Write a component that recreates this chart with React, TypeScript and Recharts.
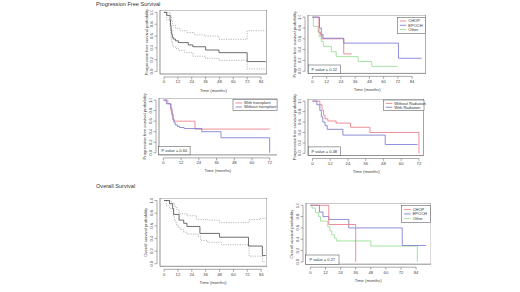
import React from "react";
import { LineChart, Line, XAxis, YAxis, ReferenceArea } from "recharts";

// ---- tick labels ----
const monthTicks = [0, 12, 24, 36, 48, 60, 72, 84];
const monthTicks72 = [0, 12, 24, 36, 48, 60, 72];
const probTicks = [0, 0.2, 0.4, 0.6, 0.8, 1];

// ---- PFS, whole cohort (estimate + 95% CI) ----
const pfsTime = [0, 2.3, 5.2, 5.6, 6.1, 6.6, 7.2, 8, 10, 12.5, 21, 25, 36, 47.6, 72, 88];
const pfsSurv = [1, 0.95, 0.87, 0.78, 0.7, 0.63, 0.58, 0.55, 0.52, 0.49, 0.45, 0.42, 0.365, 0.32, 0.17, 0.17];
const pfsUpperTime = [0, 2.3, 5.2, 5.8, 6.5, 7.5, 10, 14, 20, 26, 36, 47.6, 72, 88];
const pfsUpper = [1, 1, 0.98, 0.92, 0.85, 0.78, 0.73, 0.69, 0.66, 0.62, 0.6, 0.545, 0.69, 0.69];
const pfsLowerTime = [0, 2.3, 5.2, 5.6, 6.1, 6.6, 7.2, 8, 10, 12.5, 18, 25, 36, 47.6, 72, 88];
const pfsLower = [1, 0.87, 0.75, 0.66, 0.57, 0.5, 0.45, 0.42, 0.39, 0.36, 0.32, 0.26, 0.225, 0.19, 0.045, 0.045];

// ---- PFS by chemotherapy ----
const pfsChopTime = [0, 5.5, 7, 8, 26.4, 33];
const pfsChop = [1, 0.72, 0.66, 0.6, 0.32, 0.32];
const pfsEpochTime = [0, 6, 7.5, 9, 26.4, 72.5, 92];
const pfsEpoch = [1, 0.8, 0.68, 0.61, 0.52, 0.24, 0.24];
const pfsOtherTime = [0, 0.8, 4.8, 5.8, 7.5, 9.2, 16, 20, 38.6, 50, 72];
const pfsOther = [1, 0.83, 0.72, 0.64, 0.55, 0.46, 0.36, 0.27, 0.18, 0.09, 0.09];

// ---- PFS by transplant ----
const pfsTxTime = [0, 3, 5, 5.8, 6.5, 7.2, 21.4, 72];
const pfsTx = [1, 0.93, 0.8, 0.7, 0.62, 0.6, 0.45, 0.45];
const pfsNoTxTime = [0, 2, 5, 5.8, 6.5, 7.2, 8, 9.5, 11, 14, 26, 39, 72];
const pfsNoTx = [1, 0.93, 0.85, 0.74, 0.64, 0.57, 0.53, 0.5, 0.48, 0.46, 0.4, 0.285, 0];

// ---- PFS by radiation ----
const pfsNoRadTime = [0, 5, 6.5, 7.5, 8.5, 10.4, 16, 25.7, 38.9, 72];
const pfsNoRad = [1, 0.93, 0.83, 0.73, 0.66, 0.62, 0.58, 0.5, 0.4, 0];
const pfsRadTime = [0, 3, 5, 6, 7, 8.5, 10, 20.6, 49.2, 71];
const pfsRad = [1, 0.93, 0.82, 0.7, 0.6, 0.53, 0.46, 0.35, 0.17, 0.17];

// ---- OS, whole cohort (estimate + 95% CI) ----
const osTime = [0, 4.7, 7.4, 8.3, 13, 17, 19.8, 31, 48, 73, 85, 88];
const osSurv = [1, 0.95, 0.87, 0.78, 0.69, 0.64, 0.59, 0.48, 0.42, 0.28, 0.13, 0.13];
const osUpperTime = [0, 6, 8.8, 9.5, 11, 13, 20, 28, 37.7, 48, 73.5, 83, 88];
const osUpper = [1, 0.96, 0.93, 0.9, 0.85, 0.79, 0.76, 0.7, 0.69, 0.65, 0.7, 0.72, 0.72];
const osLowerTime = [0, 2, 4.7, 8, 9, 10.5, 12, 14, 17, 19.8, 29.5, 31.5, 37.7, 49.6, 73.5, 85, 88];
const osLower = [1, 0.92, 0.87, 0.75, 0.68, 0.62, 0.58, 0.54, 0.5, 0.47, 0.43, 0.37, 0.34, 0.3, 0.12, 0.03, 0.03];

// ---- OS by chemotherapy ----
const osChopTime = [0, 14.6, 36];
const osChop = [1, 0.66, 0];
const osEpochTime = [0, 7.2, 10, 14.6, 30.5, 73, 92];
const osEpoch = [1, 0.88, 0.8, 0.75, 0.6, 0.29, 0.29];
const osOtherTime = [0, 1.3, 4, 6.5, 8, 13.8, 15.5, 17, 19, 20.6, 48, 85];
const osOther = [1, 0.95, 0.87, 0.8, 0.72, 0.62, 0.55, 0.48, 0.42, 0.37, 0.28, 0];

const RED = "#e8727c";
const BLUE = "#7272d2";
const GREEN = "#8edc8e";
const SOLID = "#4a4a4a";
const CI = "#9a9a9a";
const FONT = "'Liberation Sans', Arial, sans-serif";
const yDomain = [-0.04, 1.04];

const pts = (t: number[], s: number[]) => t.map((v, i) => ({ t: v, s: s[i] }));

const solid = (data: any, color: string) => ({ data, color, dash: undefined, width: 0.8 });
const dashed = (data: any) => ({ data, color: CI, dash: "1.2 1.2", width: 0.7 });

const panels = [
  {
    left: 160, top: 10, w: 106.8, h: 64, xDomain: [-3.5, 89], xTicks: monthTicks,
    ylab: "Progression free survival probability",
    series: [dashed(pts(pfsUpperTime, pfsUpper)), dashed(pts(pfsLowerTime, pfsLower)), solid(pts(pfsTime, pfsSurv), SOLID)],
  },
  {
    left: 308.3, top: 15.1, w: 117.8, h: 58.4, xDomain: [-3.7, 95.5], xTicks: monthTicks,
    ylab: "Progression free survival probability",
    series: [solid(pts(pfsOtherTime, pfsOther), GREEN), solid(pts(pfsChopTime, pfsChop), RED), solid(pts(pfsEpochTime, pfsEpoch), BLUE)],
    legend: { x: 397.3, y: 17.3, w: 28.4, h: 16, items: [["CHOP", RED], ["EPOCH", BLUE], ["Other", GREEN]] },
    pval: { x: 308.3, y: 65, w: 32, h: 8.5, text: "P value = 0.12" },
  },
  {
    left: 158.6, top: 97.9, w: 118.5, h: 56.9, xDomain: [-3, 77.3], xTicks: monthTicks72,
    ylab: "Progression free survival probability",
    series: [solid(pts(pfsTxTime, pfsTx), RED), solid(pts(pfsNoTxTime, pfsNoTx), BLUE)],
    legend: { x: 233, y: 99.5, w: 44.1, h: 11, items: [["With transplant", RED], ["Without transplant", BLUE]] },
    pval: { x: 158.6, y: 146.5, w: 31.5, h: 8.3, text: "P value = 0.60" },
  },
  {
    left: 308.3, top: 98.9, w: 115.7, h: 56.5, xDomain: [-3, 75.2], xTicks: monthTicks72,
    ylab: "Progression free survival probability",
    series: [solid(pts(pfsNoRadTime, pfsNoRad), RED), solid(pts(pfsRadTime, pfsRad), BLUE)],
    legend: { x: 383.3, y: 100, w: 40.7, h: 10.7, items: [["Without Radiation", RED], ["With Radiation", BLUE]] },
    pval: { x: 308.3, y: 146.9, w: 32, h: 8.5, text: "P value = 0.48" },
  },
  {
    left: 159.5, top: 198.2, w: 107, h: 68.3, xDomain: [-3.5, 89], xTicks: monthTicks,
    ylab: "Overall survival probability",
    series: [dashed(pts(osUpperTime, osUpper)), dashed(pts(osLowerTime, osLower)), solid(pts(osTime, osSurv), SOLID)],
  },
  {
    left: 305.6, top: 203.4, w: 125.2, h: 61.2, xDomain: [-3.5, 96], xTicks: monthTicks,
    ylab: "Overall survival probability",
    series: [solid(pts(osOtherTime, osOther), GREEN), solid(pts(osEpochTime, osEpoch), BLUE), solid(pts(osChopTime, osChop), RED)],
    legend: { x: 401.7, y: 205.7, w: 28.6, h: 16.6, items: [["CHOP", RED], ["EPOCH", BLUE], ["Other", GREEN]] },
    pval: { x: 305.6, y: 255, w: 33.4, h: 9.6, text: "P value = 0.27" },
  },
];

const XTick = (props: any) => {
  const { x, y, payload, step } = props;
  return (
    <g>
      {payload.value > 0 && <line x1={x - step} x2={x} y1={y + 3} y2={y + 3} stroke="#555" strokeWidth={0.5} />}
      <line x1={x} x2={x} y1={y + 3} y2={y + 5.5} stroke="#555" strokeWidth={0.5} />
      <text x={x} y={y + 9.5} textAnchor="middle" fontSize={4.2} fill="#444" fontFamily={FONT}>{payload.value}</text>
    </g>
  );
};

const YTick = (props: any) => {
  const { x, y, payload, step } = props;
  return (
    <g>
      {payload.value > 0.01 && <line x1={x - 3} x2={x - 3} y1={y} y2={y + step} stroke="#555" strokeWidth={0.5} />}
      <line x1={x - 3} x2={x - 5.5} y1={y} y2={y} stroke="#555" strokeWidth={0.5} />
      <text transform={`translate(${x - 6.8},${y}) rotate(-90)`} textAnchor="middle" fontSize={4.2} fill="#444" fontFamily={FONT}>
        {payload.value.toFixed(1)}
      </text>
    </g>
  );
};

const Panel = ({ p }: { p: any }) => {
  const xStep = (12 * p.w) / (p.xDomain[1] - p.xDomain[0]);
  const yStep = (0.2 * p.h) / (yDomain[1] - yDomain[0]);
  return (
    <div style={{ position: "absolute", left: p.left - 20, top: p.top }}>
      <LineChart width={p.w + 20} height={p.h + 20} margin={{ top: 0, right: 0, bottom: 0, left: 0 }}>
        <XAxis type="number" dataKey="t" domain={p.xDomain} ticks={p.xTicks} allowDataOverflow interval={0}
          height={20} axisLine={false} tickLine={false} tickSize={0} tickMargin={0}
          tick={(props: any) => <XTick {...props} step={xStep} />} />
        <YAxis type="number" domain={yDomain} ticks={probTicks} allowDataOverflow interval={0}
          width={20} axisLine={false} tickLine={false} tickSize={0} tickMargin={0}
          tick={(props: any) => <YTick {...props} step={yStep} />} />
        <ReferenceArea x1={p.xDomain[0]} x2={p.xDomain[1]} y1={yDomain[0]} y2={yDomain[1]}
          fill="none" fillOpacity={0} stroke="#444" strokeWidth={0.6} ifOverflow="visible" />
        {p.series.map((s: any, i: number) => (
          <Line key={i} data={s.data} dataKey="s" type="stepAfter" stroke={s.color} strokeWidth={s.width}
            strokeDasharray={s.dash} dot={false} activeDot={false} isAnimationActive={false} />
        ))}
      </LineChart>
    </div>
  );
};

const Notes = () => (
  <svg width={520} height={292} style={{ position: "absolute", left: 0, top: 0 }} fontFamily={FONT}>
    <text x={96} y={6.2} fontSize={5.6} fill="#333">Progression Free Survival</text>
    <text x={96} y={187.8} fontSize={5.6} fill="#333">Overall Survival</text>
    {panels.map((p: any, i) => (
      <g key={i}>
        <text x={p.left + p.w / 2} y={p.top + p.h + 17.5} textAnchor="middle" fontSize={4.2} fill="#444">Time (months)</text>
        <text transform={`translate(${p.left - 12.5},${p.top + p.h / 2}) rotate(-90)`} textAnchor="middle" fontSize={4.2} fill="#444">
          {p.ylab}
        </text>
        {p.legend && (
          <g>
            <rect x={p.legend.x} y={p.legend.y} width={p.legend.w} height={p.legend.h} fill="#fff" stroke="#444" strokeWidth={0.5} />
            {p.legend.items.map(([name, color]: any, j: number) => {
              const rowH = (p.legend.h - 3) / p.legend.items.length;
              const cy = p.legend.y + 1.5 + rowH * (j + 0.5);
              return (
                <g key={j}>
                  <line x1={p.legend.x + 2.5} x2={p.legend.x + 9} y1={cy} y2={cy} stroke={color} strokeWidth={0.8} />
                  <text x={p.legend.x + 11} y={cy + 1.4} fontSize={4} fill="#333">{name}</text>
                </g>
              );
            })}
          </g>
        )}
        {p.pval && (
          <g>
            <rect x={p.pval.x} y={p.pval.y} width={p.pval.w} height={p.pval.h} fill="#fff" stroke="#444" strokeWidth={0.5} />
            <text x={p.pval.x + p.pval.w / 2} y={p.pval.y + p.pval.h / 2 + 1.4} textAnchor="middle" fontSize={4} fill="#333">
              {p.pval.text}
            </text>
          </g>
        )}
      </g>
    ))}
  </svg>
);

export default function App() {
  return (
    <div style={{ position: "absolute", left: 0, top: 0, width: 520, height: 292, background: "#fff" }}>
      {panels.map((p, i) => (
        <Panel key={i} p={p} />
      ))}
      <Notes />
    </div>
  );
}
